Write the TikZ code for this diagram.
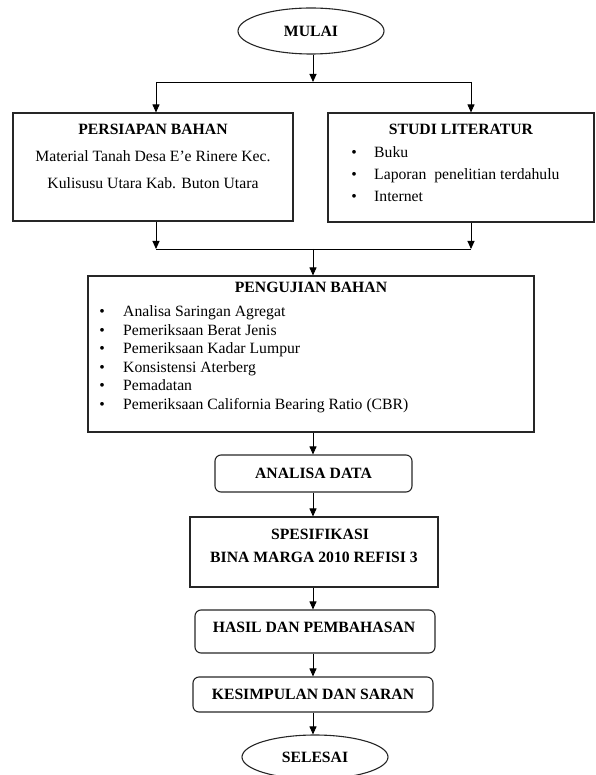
\documentclass[tikz,border=0pt]{standalone}
\usepackage{fontspec}
\setmainfont{Liberation Serif}
\usetikzlibrary{arrows.meta, shapes}
\tikzstyle{kotak} = [draw=black!85, line width=1.1pt, inner sep=0pt]
\tikzstyle{bulat} = [kotak, rounded corners=6pt]
\tikzstyle{oval} = [draw=black!85, line width=1.1pt, ellipse, inner sep=0pt, text height=11pt, text depth=0pt]
\tikzstyle{teks} = [inner sep=0pt, text height=11pt, text depth=0pt]
\tikzstyle{panah} = [line width=0.9pt, -{Triangle[length=8pt, width=7pt]}]
\tikzstyle{garis} = [line width=0.9pt]

\begin{document}
\begin{tikzpicture}[x=1pt, y=-1pt, font=\fontsize{15.7}{19}\selectfont]
	\useasboundingbox (0,0) rectangle (595,775);
	\node[oval, minimum width=146pt, minimum height=46pt] (mulai) at (311,31) {\textbf{MULAI}};
	\coordinate (pm) at (313,82);
	\coordinate (pl) at (156,82);
	\coordinate (pr) at (471,82);
	\node[kotak, minimum width=280pt, minimum height=108pt] (persiapan) at (153,167) {};
	\node[kotak, minimum width=266pt, minimum height=109pt] (studi) at (461,167.5) {};
	\node[teks] (judul1) at (153,129) {\textbf{PERSIAPAN BAHAN}};
	\node[teks] (baris1) at (153,156) {Material Tanah Desa E’e Rinere Kec.};
	\node[teks] (baris2) at (153,183) {Kulisusu Utara Kab. Buton Utara};
	\node[teks] (judul2) at (461,129) {\textbf{STUDI LITERATUR}};
	\foreach \t [count=\i] in {Buku, Laporan\ \ penelitian terdahulu, Internet}
	{
		\node[teks] (dot2\i) at (354,130+22*\i) {•};
		\node[teks, anchor=west] (item2\i) at (374,130+22*\i) {\t};
	}
	\draw[panah] (mulai.south -| pm) -- (pm);
	\draw[garis] (pl) -- (pr);
	\draw[panah] (pl) -- (pl |- persiapan.north);
	\draw[panah] (pr) -- (pr |- studi.north);
	\coordinate (ql) at (156,249);
	\coordinate (qm) at (313,249);
	\coordinate (qr) at (471,249);
	\draw[panah] (persiapan.south -| ql) -- (ql);
	\draw[panah] (studi.south -| qr) -- (qr);
	\draw[garis] (ql) -- (qr);
	\node[kotak, minimum width=446pt, minimum height=156pt] (pengujian) at (311,354) {};
	\node[teks] (judul3) at (311,287) {\textbf{PENGUJIAN BAHAN}};
	\foreach \t [count=\i] in {Analisa Saringan Agregat, Pemeriksaan Berat Jenis, Pemeriksaan Kadar Lumpur, Konsistensi Aterberg, Pemadatan, Pemeriksaan California Bearing Ratio (CBR)}
	{
		\node[teks] (dot3\i) at (102,292.4+18.6*\i) {•};
		\node[teks, anchor=west] (item3\i) at (123,292.4+18.6*\i) {\t};
	}
	\node[bulat, minimum width=197pt, minimum height=37pt] (analisa) at (313.5,473.5) {};
	\node[teks] (teksanalisa) at (313.5,473) {\textbf{ANALISA DATA}};
	\node[kotak, minimum width=248pt, minimum height=70pt] (spesifikasi) at (314,552) {};
	\node[teks] (spek1) at (320,534) {\textbf{SPESIFIKASI}};
	\node[teks] (spek2) at (314,557) {\textbf{BINA MARGA 2010 REFISI 3}};
	\node[bulat, minimum width=240pt, minimum height=43pt] (hasil) at (315,631.5) {};
	\node[teks] (tekshasil) at (314,627) {\textbf{HASIL DAN PEMBAHASAN}};
	\node[bulat, minimum width=240pt, minimum height=35pt] (kesimpulan) at (313,694.5) {};
	\node[teks] (tekskesimpulan) at (313,694) {\textbf{KESIMPULAN DAN SARAN}};
	\node[oval, minimum width=146pt, minimum height=44pt] (selesai) at (315,757) {\textbf{SELESAI}};
	\draw[panah] (qm) -- (qm |- pengujian.north);
	\foreach \a/\b in {pengujian/analisa, analisa/spesifikasi, spesifikasi/hasil, hasil/kesimpulan, kesimpulan/selesai}
		\draw[panah] (\a.south -| qm) -- (\b.north -| qm);
\end{tikzpicture}
\end{document}
